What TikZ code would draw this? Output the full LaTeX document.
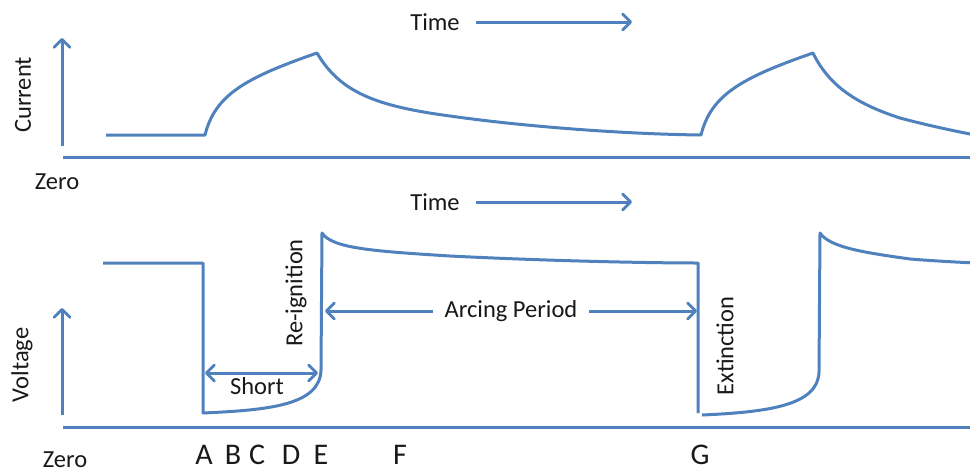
\documentclass[tikz,border=0pt]{standalone}
\usepackage{fontspec}
\setmainfont{Carlito}
\usetikzlibrary{arrows.meta}
\definecolor{wave}{RGB}{79,129,189}
\definecolor{ink}{RGB}{25,25,25}
\begin{document}
\begin{tikzpicture}[x=1pt,y=-1pt,
  curve/.style={draw=wave,line width=3pt,line join=round},
  axis/.style={draw=wave,line width=3pt},
  head/.style={-{Straight Barb[length=8pt,width=16pt,line width=2.8pt,round]}},
  twoheads/.style={{Straight Barb[length=8pt,width=16pt,line width=2.8pt,round]}-{Straight Barb[length=8pt,width=16pt,line width=2.8pt,round]}},
  lbl/.style={font=\fontsize{24.5}{28}\selectfont,text=ink,inner sep=0pt},
  letter/.style={font=\fontsize{30}{34}\selectfont,text=ink,inner sep=0pt}]
\useasboundingbox (0,0) rectangle (970,472);
\clip (0,0) rectangle (970,472);

% ---------- current panel ----------
\coordinate (ca0) at (62,146);
\coordinate (ca1) at (62,38);
\draw[axis,head] (ca0) -- (ca1);
\coordinate (cz0) at (63,157);
\coordinate (cz1) at (975,157);
\draw[axis] (cz0) -- (cz1);
\node[lbl,rotate=90] (cur) at (23,95) {Current};
\node[lbl] (z1) at (57,182) {Zero};
\node[lbl] (t1) at (435,22) {Time};
\coordinate (t1e) at (632,22);
\draw[axis,head] ([xshift=16pt]t1.east) -- (t1e);

\draw[curve] (106,135) -- (205,135)
  .. controls (215,95) and (245,78) .. (317,53)
  .. controls (340,92) and (375,106) .. (450,116)
  .. controls (520,126) and (620,134) .. (701,135)
  .. controls (711,95) and (741,78) .. (813,53)
  .. controls (830,88) and (860,105) .. (900,118)
  .. controls (930,126) and (955,131) .. (975,135);

% ---------- voltage panel ----------
\node[lbl] (t2) at (435,202) {Time};
\coordinate (t2e) at (632,202);
\draw[axis,head] ([xshift=16pt]t2.east) -- (t2e);
\coordinate (va0) at (62,415);
\coordinate (va1) at (62,308);
\draw[axis,head] (va0) -- (va1);
\coordinate (vz0) at (63,427);
\coordinate (vz1) at (975,427);
\draw[axis] (vz0) -- (vz1);
\node[lbl,rotate=90] (volt) at (22,365) {Voltage};
\node[lbl] (z2) at (65,460) {Zero};

\draw[curve] (103,263) -- (203,263) -- (203,413)
  .. controls (270,410) and (320,405) .. (321,370) -- (322,233)
  .. controls (332,248) and (370,251) .. (450,256)
  .. controls (550,261) and (650,263) .. (698,263) -- (698,413);
\draw[curve] (702,415)
  .. controls (770,412) and (818,405) .. (819,372) -- (820,233)
  .. controls (830,248) and (868,253) .. (910,259)
  .. controls (935,261) and (955,262) .. (975,263);

\node[lbl,rotate=90] (reig) at (296,293) {Re-ignition};
\node[lbl,rotate=90] (ext) at (725,346) {Extinction};

\coordinate (s0) at (205,373);
\coordinate (s1) at (318,373);
\draw[axis,twoheads] (s0) -- (s1);
\node[lbl] (short) at (257,386) {Short};

\coordinate (ap0) at (325,311);
\coordinate (ap1) at (697,311);
\draw[axis,twoheads] (ap0) -- node[lbl,fill=white,inner xsep=12pt,inner ysep=3pt] (arc) {Arcing Period} (ap1);

\node[letter] (A) at (204,455) {A};
\node[letter] (B) at (233,455) {B};
\node[letter] (C) at (257,455) {C};
\node[letter] (D) at (291,455) {D};
\node[letter] (E) at (321,455) {E};
\node[letter] (F) at (400,455) {F};
\node[letter] (G) at (700,455) {G};
\end{tikzpicture}
\end{document}
